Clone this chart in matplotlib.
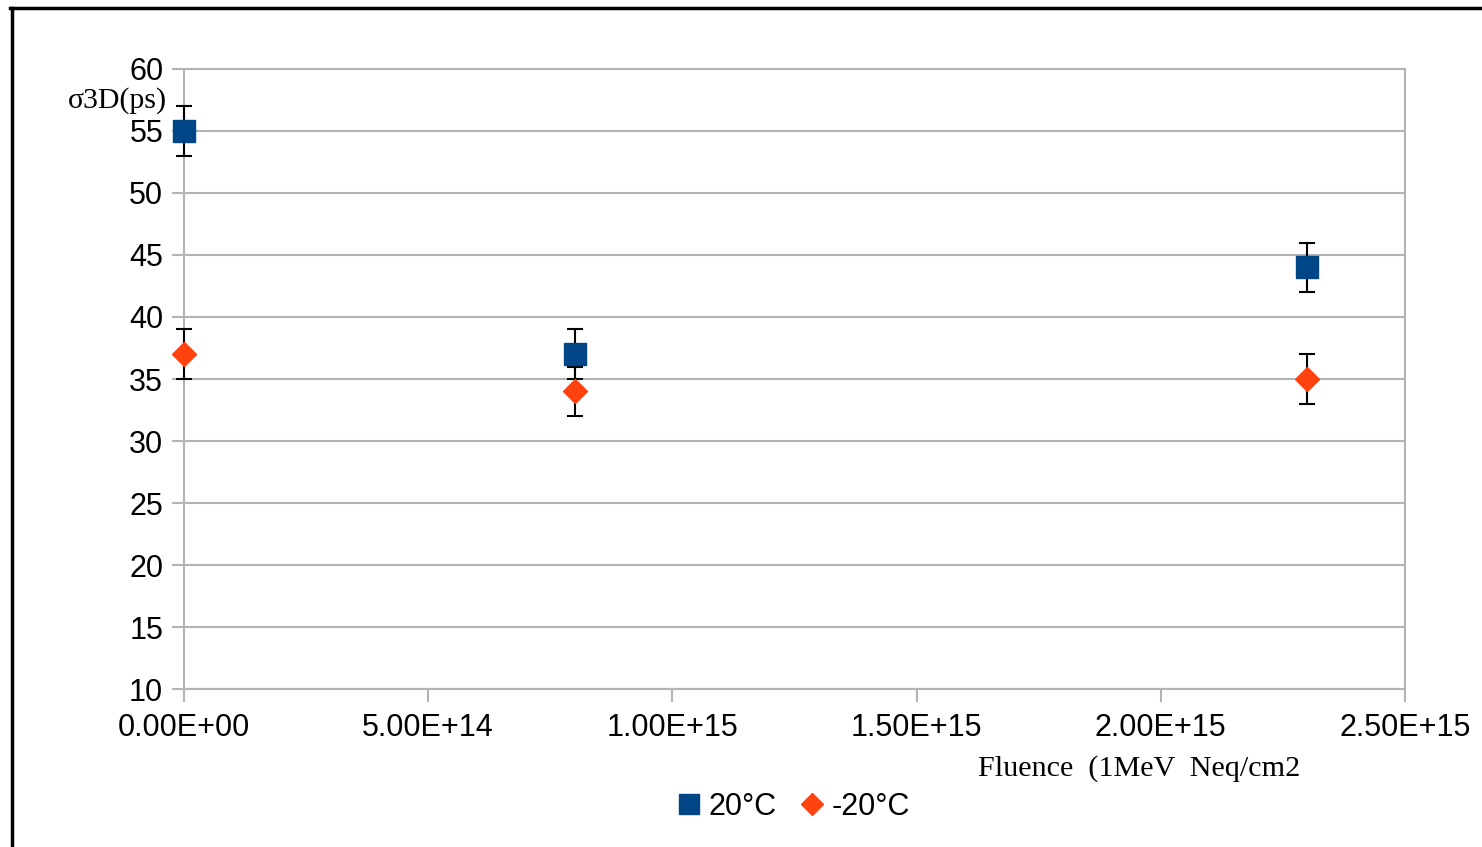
import numpy as np
import matplotlib
matplotlib.use("Agg")
import matplotlib.pyplot as plt
from matplotlib.lines import Line2D
from matplotlib.ticker import FuncFormatter, MultipleLocator

fluence = [0.0, 8.0e14, 2.3e15]
sigma_20 = [55, 37, 44]
sigma_m20 = [37, 34, 35]
err_20 = [2, 2, 2]
err_m20 = [2, 2, 2]
labels = ["20°C", "-20°C"]

blue = "#004586"
orange = "#ff420e"
grid_col = "#b3b3b3"

plt.rcParams['font.family'] = ['Liberation Sans', 'DejaVu Sans']

fig = plt.figure(figsize=(14.82, 8.47), dpi=100)
ax = fig.add_axes([184 / 1482, 1 - 689 / 847, (1405 - 184) / 1482, (689 - 69) / 847])

for y, e, mk, ms, col in [(sigma_20, err_20, 's', 16.5, blue),
                          (sigma_m20, err_m20, 'D', 12.5, orange)]:
    cont = ax.errorbar(fluence, y, yerr=e, fmt=mk, color=col, ms=ms,
                       ecolor='black', elinewidth=1.5, capsize=6, capthick=1.5, zorder=3)
    for art in cont.get_children():
        art.set_clip_on(False)

ax.set_xlim(0, 2.5e15)
ax.set_ylim(10, 60)
ax.xaxis.set_major_locator(MultipleLocator(5e14))
ax.yaxis.set_major_locator(MultipleLocator(5))
ax.xaxis.set_major_formatter(FuncFormatter(lambda v, p: f"{v:.2E}"))
ax.grid(True, axis='y', color=grid_col, lw=1.5)
ax.set_axisbelow(True)
for s in ax.spines.values():
    s.set_color(grid_col)
    s.set_linewidth(1.5)
ax.tick_params(axis='both', colors=grid_col, length=9, width=1.5, labelsize=22,
               labelcolor='black')
ax.tick_params(axis='y', pad=6)
ax.tick_params(axis='x', pad=8)

fig.text(167 / 1482, 1 - 101 / 847, "σ3D(ps)", ha='right', va='center',
         fontsize=21.5, family=['Liberation Serif', 'DejaVu Serif'])
fig.text(978 / 1482, 1 - 769 / 847, "Fluence  (1MeV  Neq/cm2", ha='left', va='center',
         fontsize=21.7, family=['Liberation Serif', 'DejaVu Serif'])

handles = [Line2D([], [], ls='none', marker='s', ms=15, color=blue),
           Line2D([], [], ls='none', marker='D', ms=11, color=orange)]
fig.legend(handles, labels, loc='center', bbox_to_anchor=(794 / 1482, 1 - 807 / 847),
           ncol=2, frameon=False, fontsize=22, handlelength=0.7, handletextpad=0.3,
           columnspacing=0.8)

# outer frame (top and left edges visible)
fig.add_artist(Line2D([11.5 / 1482, 11.5 / 1482], [0, 1 - 8 / 847], color='black', lw=2.5,
                      transform=fig.transFigure))
fig.add_artist(Line2D([10 / 1482, 1], [1 - 8 / 847, 1 - 8 / 847], color='black', lw=2.5,
                      transform=fig.transFigure))

fig.savefig("out.png", dpi=100)
